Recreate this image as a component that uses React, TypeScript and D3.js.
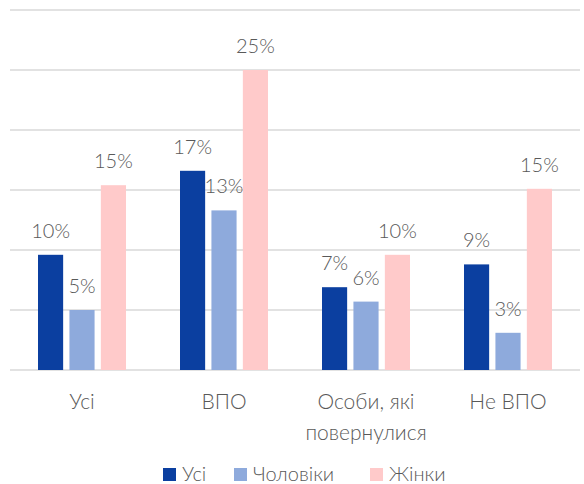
import React from "react";
import * as d3 from "d3";

const categories: string[][] = [["Усі"], ["ВПО"], ["Особи, які", "повернулися"], ["Не ВПО"]];
const seriesNames = ["Усі", "Чоловіки", "Жінки"];
const seriesColors = ["#0b3fa0", "#8eaadc", "#ffcaca"];
const allValues = [9.6, 16.6, 6.9, 8.8];
const menValues = [5.0, 13.3, 5.7, 3.1];
const womenValues = [15.4, 25.0, 9.6, 15.1];
const yTicks = [0, 5, 10, 15, 20, 25, 30];

const W = 584;
const H = 484;
const FONT = "Lato, 'Open Sans', sans-serif";
const TEXT = "#595959";

export default function App() {
  const series = [allValues, menValues, womenValues];
  const catIdx = categories.map((_, i) => i);
  const x0 = d3.scaleBand<number>().domain(catIdx).range([11, 579]).padding(0);
  const groupW = 88;
  const x1 = d3
    .scaleBand<number>()
    .domain([0, 1, 2])
    .range([0, groupW])
    .paddingInner(0.2)
    .paddingOuter(0);
  const y = d3.scaleLinear().domain([0, 30]).range([370, 10]);

  const legendX = [163, 234, 370];

  return (
    <svg
      width={W}
      height={H}
      style={{ position: "absolute", left: 0, top: 0, background: "#fff" }}
      fontFamily={FONT}
      fontWeight={300}
    >
      {yTicks.map((t) => (
        <line
          key={t}
          x1={10}
          x2={580}
          y1={y(t)}
          y2={y(t)}
          stroke="#d9d9d9"
          strokeWidth={1.5}
        />
      ))}
      {catIdx.map((ci) => {
        const gx = x0(ci)! + (x0.bandwidth() - groupW) / 2;
        return (
          <g key={ci}>
            {series.map((vals, si) => {
              const v = vals[ci];
              const bx = gx + x1(si)!;
              return (
                <g key={si}>
                  <rect
                    x={bx}
                    y={y(v)}
                    width={x1.bandwidth()}
                    height={y(0) - y(v)}
                    fill={seriesColors[si]}
                  />
                  <text
                    x={bx + x1.bandwidth() / 2}
                    y={y(v) - 17}
                    textAnchor="middle"
                    fontSize={20}
                    fill={TEXT}
                  >
                    {Math.round(v)}%
                  </text>
                </g>
              );
            })}
            {categories[ci].map((line, li) => (
              <text
                key={li}
                x={x0(ci)! + x0.bandwidth() / 2}
                y={409 + li * 31}
                textAnchor="middle"
                fontSize={21}
                fill={TEXT}
              >
                {line}
              </text>
            ))}
          </g>
        );
      })}
      {seriesNames.map((n, i) => (
        <g key={n}>
          <rect x={legendX[i]} y={468} width={13} height={13} fill={seriesColors[i]} />
          <text x={legendX[i] + 19} y={481} fontSize={20} fill={TEXT}>
            {n}
          </text>
        </g>
      ))}
    </svg>
  );
}
